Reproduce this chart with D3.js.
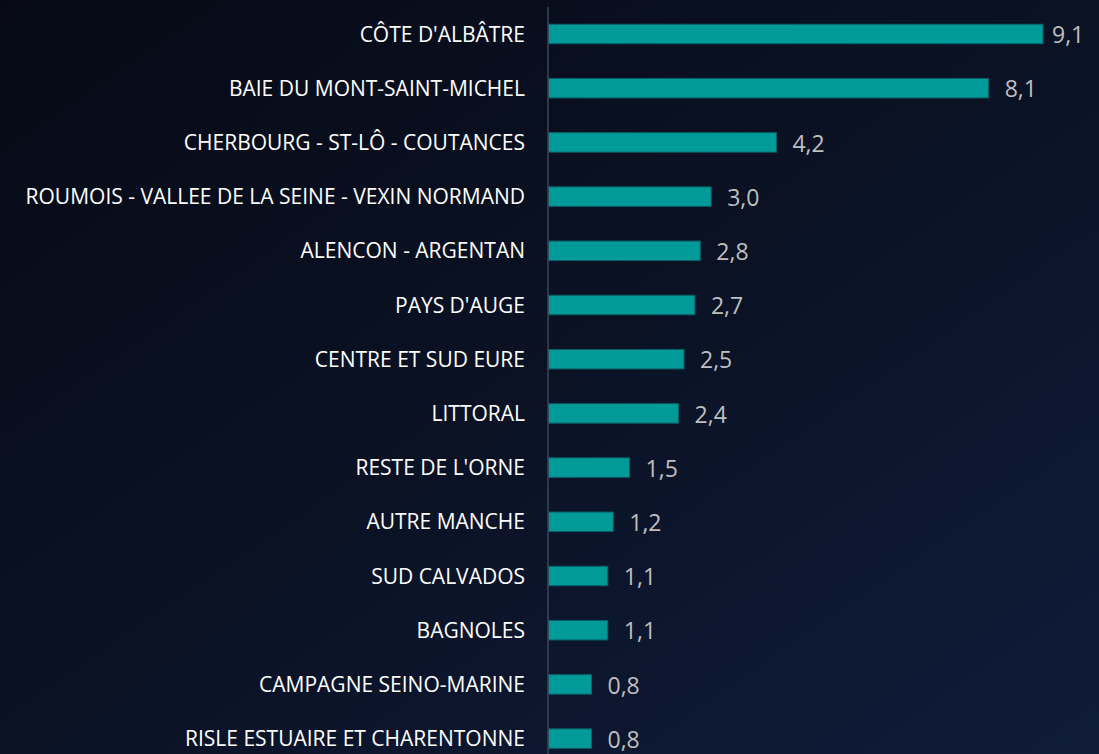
<!DOCTYPE html>
<html><head><meta charset="utf-8">
<script src="https://cdn.jsdelivr.net/npm/d3@7"></script>
<style>
html,body{margin:0;padding:0;background:#080c1a;}
svg{display:block;}
</style></head>
<body>
<svg id="chart" width="1099" height="754"></svg>
<script>
const categories = ["CÔTE D'ALBÂTRE","BAIE DU MONT-SAINT-MICHEL","CHERBOURG - ST-LÔ - COUTANCES","ROUMOIS - VALLEE DE LA SEINE - VEXIN NORMAND","ALENCON - ARGENTAN","PAYS D'AUGE","CENTRE ET SUD EURE","LITTORAL","RESTE DE L'ORNE","AUTRE MANCHE","SUD CALVADOS","BAGNOLES","CAMPAGNE SEINO-MARINE","RISLE ESTUAIRE ET CHARENTONNE"];
const values = [9.1,8.1,4.2,3.0,2.8,2.7,2.5,2.4,1.5,1.2,1.1,1.1,0.8,0.8];

const W = 1099, H = 754;
const svg = d3.select("#chart");
const defs = svg.append("defs");
const grad = defs.append("linearGradient").attr("id","bg")
  .attr("x1","0").attr("y1","0").attr("x2","1").attr("y2","1");
grad.append("stop").attr("offset","0%").attr("stop-color","#070a16");
grad.append("stop").attr("offset","50%").attr("stop-color","#0a1224");
grad.append("stop").attr("offset","100%").attr("stop-color","#0f1c3a");
svg.append("rect").attr("width",W).attr("height",H).attr("fill","url(#bg)");

const x0 = 548;
const x = d3.scaleLinear().domain([0,10]).range([x0, x0+544]);
const y = d3.scaleBand().domain(categories).range([6.9, 6.9+54.2*categories.length])
  .paddingInner(0.64).paddingOuter(0.32);

const data = categories.map((c,i)=>({c, v: values[i]}));

svg.append("g").selectAll("rect").data(data).join("rect")
  .attr("x", x(0)+0.5)
  .attr("y", d=>y(d.c))
  .attr("width", d=>x(d.v)-x(0)-0.5)
  .attr("height", y.bandwidth())
  .attr("fill","#009a98")
  .attr("stroke","#0b5f66").attr("stroke-width",1);

// axis line
svg.append("line").attr("x1",x0).attr("x2",x0).attr("y1",7).attr("y2",H)
  .attr("stroke","#3d4558").attr("stroke-width",1.5);

const fmt = v => d3.format(".1f")(v).replace(".",",");

svg.append("g").selectAll("text").data(data).join("text")
  .attr("x", x0-23)
  .attr("y", d=>y(d.c)+y.bandwidth()/2)
  .attr("dy","0.36em")
  .attr("text-anchor","end")
  .attr("fill","#ffffff")
  .style("font-family","'Open Sans', sans-serif")
  .style("font-size","21px")
  .text(d=>d.c);

svg.append("g").selectAll("text").data(data).join("text")
  .attr("x", d=>Math.min(x(d.v)+16, 1052))
  .attr("y", d=>y(d.c)+y.bandwidth()/2)
  .attr("dy","0.4em")
  .attr("fill","#bfbfbf")
  .style("font-family","'Open Sans', sans-serif")
  .style("font-size","23px")
  .text(d=>fmt(d.v));
</script>
</body></html>
